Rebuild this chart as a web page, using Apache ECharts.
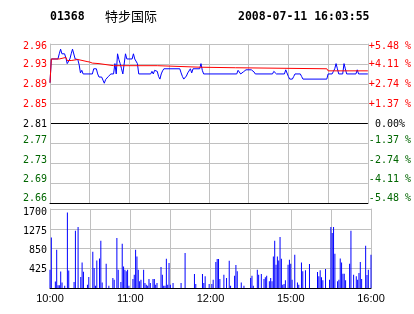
<!DOCTYPE html>
<html>
<head>
<meta charset="utf-8">
<script src="https://cdn.jsdelivr.net/npm/echarts@6/dist/echarts.min.js"></script>
<style>html,body{margin:0;padding:0;background:#fff;}#c{width:414px;height:314px;}</style>
</head>
<body>
<div id="c"></div>
<script>
// ---- header texts ----
const stockCode = '01368';
const stockName = '特步国际';
const stampText = '2008-07-11 16:03:55';

// ---- axis ticks ----
const prevClose = 2.81;
const priceStep = 0.0385;            // one grid step of the price axis
const priceTickLabels = ['2.66','2.69','2.73','2.77','2.81','2.85','2.89','2.93','2.96'];   // bottom -> top
const pctTickLabels = ['-5.48 %','-4.11 %','-2.74 %','-1.37 %',' 0.00%','+1.37 %','+2.74 %','+4.11 %','+5.48 %'];
const volTickLabels = ['', '425', '850', '1275', '1700'];
const timeTickMinutes = [0, 60, 120, 180, 240];
const timeTickLabels = ['10:00', '11:00', '12:00', '15:00', '16:00'];

// ---- price (minute index, price) ----
const priceLine = [[0,2.889],[1,2.935],[6,2.935],[7,2.945],[8,2.954],[9,2.945],[11,2.945],[12,2.937],[13,2.926],[14,2.926],[15,2.935],[16,2.945],[17,2.954],[18,2.954],[19,2.935],[21,2.934],[22,2.924],[23,2.908],[24,2.913],[25,2.906],[32,2.906],[33,2.916],[35,2.916],[36,2.906],[37,2.900],[39,2.900],[40,2.894],[41,2.888],[42,2.895],[43,2.895],[44,2.901],[45,2.901],[46,2.906],[48,2.906],[49,2.926],[50,2.906],[51,2.945],[52,2.934],[53,2.926],[54,2.916],[55,2.906],[56,2.906],[57,2.945],[58,2.935],[62,2.935],[63,2.945],[64,2.935],[65,2.935],[66,2.926],[67,2.906],[76,2.906],[77,2.911],[78,2.906],[79,2.913],[81,2.911],[82,2.901],[83,2.896],[84,2.906],[85,2.912],[86,2.916],[98,2.916],[99,2.908],[100,2.901],[101,2.896],[102,2.896],[103,2.902],[104,2.908],[105,2.911],[106,2.916],[107,2.908],[108,2.916],[113,2.916],[114,2.926],[115,2.913],[116,2.906],[141,2.906],[142,2.913],[143,2.910],[144,2.906],[145,2.906],[146,2.910],[148,2.914],[152,2.914],[153,2.916],[154,2.910],[155,2.906],[168,2.906],[169,2.911],[170,2.914],[171,2.906],[177,2.906],[178,2.914],[179,2.916],[180,2.901],[181,2.896],[183,2.896],[184,2.901],[185,2.906],[189,2.906],[190,2.901],[191,2.896],[209,2.896],[210,2.906],[213,2.906],[214,2.911],[215,2.916],[216,2.926],[217,2.916],[218,2.906],[221,2.906],[222,2.926],[223,2.916],[224,2.906],[231,2.906],[232,2.914],[233,2.906],[240,2.906]];

// ---- average price (minute index, price) ----
const avgLine = [[0,2.889],[1,2.935],[7,2.935],[8,2.938],[12,2.938],[13,2.932],[16,2.932],[17,2.934],[21,2.934],[22,2.931],[28,2.930],[30,2.929],[32,2.927],[37,2.926],[38,2.923],[48,2.922],[81,2.922],[82,2.919],[114,2.919],[115,2.918],[140,2.918],[141,2.916],[209,2.916],[210,2.912],[240,2.912]];

// ---- volume (minute index, volume) ----
const volume = [[0,394],[1,1089],[4,142],[5,824],[6,60],[7,60],[8,357],[9,120],[11,50],[13,1627],[14,379],[18,129],[19,1233],[21,1312],[23,236],[24,551],[25,351],[28,72],[29,236],[32,781],[33,430],[34,50],[35,594],[37,637],[38,1018],[39,120],[42,523],[44,50],[47,215],[48,179],[50,1076],[51,394],[53,129],[54,953],[55,465],[56,394],[57,358],[58,394],[59,50],[62,193],[63,287],[64,824],[65,680],[66,394],[67,143],[68,179],[70,394],[71,107],[72,72],[73,50],[74,193],[75,107],[77,193],[78,193],[79,72],[80,107],[83,452],[84,287],[85,50],[86,50],[87,630],[88,72],[89,538],[90,72],[92,107],[98,107],[101,753],[108,301],[109,86],[114,301],[115,107],[116,251],[119,86],[121,86],[122,179],[124,559],[125,624],[126,624],[127,193],[130,287],[132,215],[134,587],[135,50],[138,265],[139,495],[140,358],[143,120],[145,50],[150,215],[151,265],[152,50],[155,394],[156,287],[158,301],[160,193],[161,229],[162,265],[164,143],[165,215],[166,143],[167,680],[168,1018],[169,501],[170,680],[171,594],[172,1097],[173,630],[174,72],[175,86],[176,165],[178,501],[179,609],[180,523],[181,179],[183,717],[185,120],[186,72],[188,551],[189,358],[191,380],[194,516],[200,344],[201,251],[202,380],[203,229],[204,165],[206,408],[209,179],[210,1312],[211,1183],[212,1312],[213,738],[215,143],[216,179],[217,637],[218,551],[219,308],[220,308],[221,165],[224,523],[225,1233],[227,287],[229,251],[230,179],[231,323],[232,559],[233,193],[236,910],[237,280],[238,394],[240,716]];

const RED = '#ff0000', GREEN = '#006600', BLUE = '#0000ff', GRID = '#c0c0c0';
const MONO = '"DejaVu Sans Mono", monospace';
const toStep = p => (p - prevClose) / priceStep;

// vertical nudges of tick labels (px, + = down), bottom -> top
const priceShift = [-4.5, -3.5, -3, -2.5, 0.5, 0.5, 0.5, 1, 2];
const volShift = [0, 0.7, 2.4, 2.5, 3.4];

function pad(d) { return d >= 0 ? [2 * d, 0, 0, 0] : [0, 0, -2 * d, 0]; }
function makeRich(shifts, colorOf) {
  const r = {};
  shifts.forEach((d, k) => {
    r['s' + k] = { color: colorOf(k), fontFamily: MONO, fontSize: 10, padding: pad(d) };
  });
  return r;
}
const signColor = k => (k > 4 ? RED : (k < 4 ? GREEN : '#000'));
const priceRich = makeRich(priceShift, signColor);
const volRich = makeRich(volShift, () => '#000');

function priceFmt(labels) {
  return v => {
    const k = Math.round(v) + 4;
    return labels[k] === undefined ? '' : '{s' + k + '|' + labels[k] + '}';
  };
}

const chart = echarts.init(document.getElementById('c'), null, { renderer: 'canvas' });
const splitColors = ['#000', GRID, GRID, GRID, '#000', GRID, GRID, GRID, GRID];

chart.setOption({
  animation: false,
  backgroundColor: '#fff',
  graphic: [
    { type: 'text', style: { x: 50, y: 17, text: stockCode, font: 'bold 11.5px ' + MONO, fill: '#000', verticalAlign: 'middle' } },
    { type: 'text', style: { x: 105, y: 16, text: stockName, font: '13px "Noto Sans CJK SC"', fill: '#000', verticalAlign: 'middle' } },
    { type: 'text', style: { x: 238, y: 17, text: stampText, font: 'bold 11.5px ' + MONO, fill: '#000', verticalAlign: 'middle' } }
  ],
  grid: [
    { left: 50, top: 44, width: 321, height: 159 },
    { left: 50, top: 209, width: 321, height: 79 }
  ],
  xAxis: [
    { gridIndex: 0, type: 'value', min: 0, max: 240, interval: 30,
      axisLine: { show: true, onZero: false, lineStyle: { color: '#000', width: 1 } },
      axisTick: { show: false }, axisLabel: { show: false },
      splitLine: { show: true, lineStyle: { color: GRID, width: 1 } } },
    { gridIndex: 1, type: 'value', min: 0, max: 240, interval: 30,
      axisLine: { show: true, onZero: false, lineStyle: { color: '#000', width: 1 } },
      axisTick: { show: false },
      axisLabel: { show: true, margin: 5, color: '#000', fontSize: 11, fontFamily: '"Liberation Sans", Arial, sans-serif',
        formatter: v => { const i = timeTickMinutes.indexOf(v); return i >= 0 ? timeTickLabels[i] : ''; } },
      splitLine: { show: true, lineStyle: { color: GRID, width: 1 } } }
  ],
  yAxis: [
    { gridIndex: 0, type: 'value', min: -4, max: 4, interval: 1, position: 'left',
      axisLine: { show: true, lineStyle: { color: GRID } }, axisTick: { show: false },
      axisLabel: { margin: 3, formatter: priceFmt(priceTickLabels), rich: priceRich },
      splitLine: { show: true, lineStyle: { color: splitColors, width: 1 } } },
    { gridIndex: 0, type: 'value', min: -4, max: 4, interval: 1, position: 'right',
      axisLine: { show: true, lineStyle: { color: GRID } }, axisTick: { show: false },
      axisLabel: { margin: 1, formatter: priceFmt(pctTickLabels), rich: priceRich },
      splitLine: { show: false } },
    { gridIndex: 1, type: 'value', min: 0, max: 1700, interval: 425, position: 'left',
      axisLine: { show: true, lineStyle: { color: GRID } }, axisTick: { show: false },
      axisLabel: { margin: 3, rich: volRich,
        formatter: v => { const k = Math.round(v / 425); return volTickLabels[k] ? '{s' + k + '|' + volTickLabels[k] + '}' : ''; } },
      splitLine: { show: true, lineStyle: { color: GRID, width: 1 } } },
    { gridIndex: 1, type: 'value', min: 0, max: 1700, interval: 425, position: 'right',
      axisLine: { show: true, lineStyle: { color: GRID } }, axisTick: { show: false },
      axisLabel: { show: false }, splitLine: { show: false } }
  ],
  series: [
    { type: 'line', xAxisIndex: 0, yAxisIndex: 0, showSymbol: false, silent: true,
      lineStyle: { color: BLUE, width: 1 }, itemStyle: { color: BLUE },
      data: priceLine.map(d => [d[0], toStep(d[1])]) },
    { type: 'line', xAxisIndex: 0, yAxisIndex: 0, showSymbol: false, silent: true,
      lineStyle: { color: RED, width: 1 }, itemStyle: { color: RED },
      data: avgLine.map(d => [d[0], toStep(d[1])]) },
    { type: 'bar', xAxisIndex: 1, yAxisIndex: 2, barWidth: 1, silent: true,
      itemStyle: { color: BLUE }, data: volume }
  ]
});
</script>
</body>
</html>
